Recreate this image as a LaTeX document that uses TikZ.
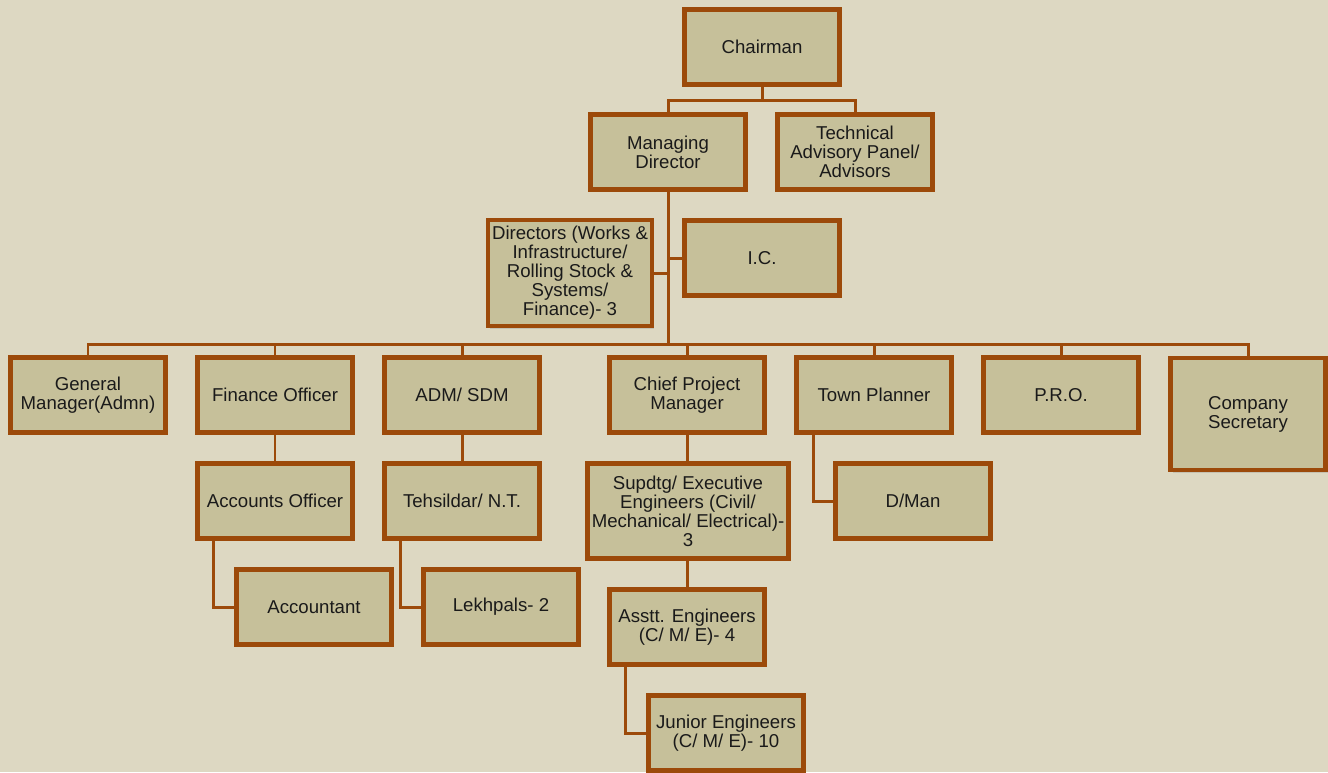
\documentclass[tikz,border=0pt]{standalone}
\usepackage{fontspec}
\setmainfont{Liberation Sans}
\usetikzlibrary{calc,shadows}

\definecolor{paper}{RGB}{221,216,194}
\definecolor{boxfill}{RGB}{198,192,154}
\definecolor{rust}{RGB}{156,74,10}
\definecolor{ink}{RGB}{26,26,26}

\tikzset{
    post/.style={draw=rust, line width=2.8pt, fill=boxfill, text=ink,
        minimum width=3.1cm, minimum height=1.5cm, align=center,
        inner sep=0pt, font=\fontsize{10.6}{10.8}\selectfont,
        drop shadow={shadow xshift=0.04cm, shadow yshift=-0.05cm, opacity=0.25}},
    link/.style={draw=rust, line width=1.7pt}
}

\begin{document}
\begin{tikzpicture}[x=0.02cm, y=-0.02cm]
    % Page
    \fill[paper] (0,0) rectangle (1328,772);
    \useasboundingbox (0,0) rectangle (1328,772);

    % Top levels
    \node[post] (chair) at (762,47) {Chairman};
    \node[post] (md) at (668,152) {Managing\\Director};
    \node[post] (tap) at (855,152) {Technical\\Advisory Panel/\\Advisors};
    \node[post, minimum width=3.28cm, minimum height=2.12cm] (dir) at (570,273)
        {Directors (Works \&\\Infrastructure/\\Rolling Stock \&\\Systems/\\Finance)- 3};
    \node[post] (ic) at (762,258) {I.C.};

    % Departments
    \node[post] (gm) at (88,395) {General\\Manager(Admn)};
    \node[post] (fo) at (275,395) {Finance Officer};
    \node[post] (adm) at (462,395) {ADM/ SDM};
    \node[post] (cpm) at (687,395) {Chief Project\\Manager};
    \node[post] (tp) at (874,395) {Town Planner};
    \node[post] (pro) at (1061,395) {P.R.O.};
    \node[post, minimum height=2.24cm] (cs) at (1248,414) {Company\\Secretary};

    % Lower levels
    \node[post] (ao) at (275,501) {Accounts Officer};
    \node[post] (acc) at (314,607) {Accountant};
    \node[post] (tn) at (462,501) {Tehsildar/ N.T.};
    \node[post] (lek) at (501,607) {Lekhpals- 2};
    \node[post, minimum width=4.02cm, minimum height=1.9cm] (se) at (688,511)
        {Supdtg/ Executive\\Engineers (Civil/\\Mechanical/ Electrical)-\\3};
    \node[post] (ae) at (687,627) {Asstt. Engineers\\(C/ M/ E)- 4};
    \node[post] (je) at (726,733) {Junior Engineers\\(C/ M/ E)- 10};
    \node[post] (dman) at (913,501) {D/Man};

    % Connectors
    \coordinate (split) at (762,100);
    \coordinate (bus) at (668,344);
    \draw[link] (chair.south) -- (split);
    \draw[link] (md.north) |- (split) -| (tap.north);
    \draw[link] (md.south) -- (bus);
    \draw[link] (dir.east) -- (dir.east -| bus);
    \draw[link] (ic.west) -- (ic.west -| bus);
    \foreach \n in {gm,fo,adm,cpm,tp,pro,cs} {
        \draw[link] (bus) -| (\n.north);
    }
    \draw[link] (fo.south) -- (ao.north);
    \draw[link] (adm.south) -- (tn.north);
    \draw[link] (cpm.south) -- (cpm.south |- se.north);
    \draw[link] (ae.north |- se.south) -- (ae.north);
    \draw[link] ($(ao.south west)+(18,0)$) |- (acc.west);
    \draw[link] ($(tn.south west)+(18,0)$) |- (lek.west);
    \draw[link] ($(ae.south west)+(18,0)$) |- (je.west);
    \draw[link] ($(tp.south west)+(19,0)$) |- (dman.west);
\end{tikzpicture}
\end{document}
